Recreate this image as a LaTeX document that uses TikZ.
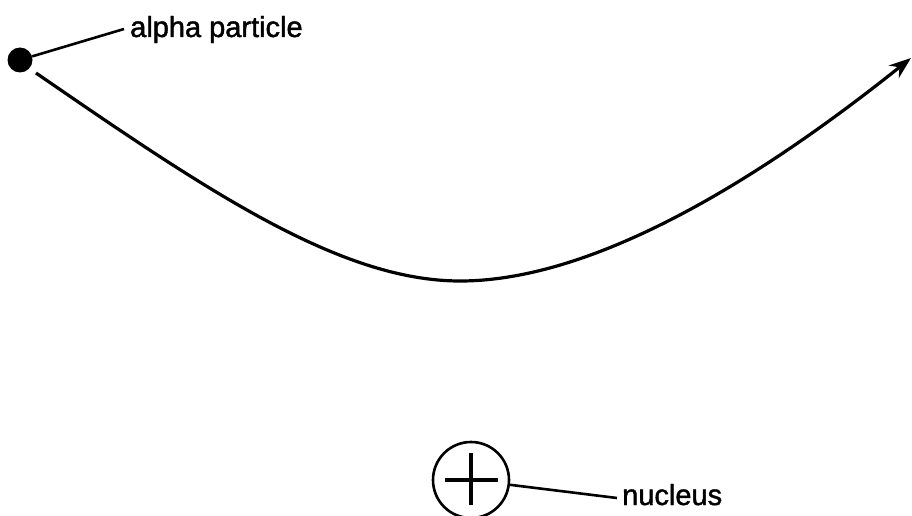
\documentclass[tikz,border=0pt]{standalone}
\usepackage{fontspec}
\setmainfont{Liberation Sans}
\newfontfamily\lblfont{Liberation Sans}[FakeBold=1.5]
\usetikzlibrary{arrows.meta}
\begin{document}
\begin{tikzpicture}[x=1pt,y=-1pt,
  lbl/.style={anchor=base west,inner sep=0pt,font=\lblfont\fontsize{29}{32}\selectfont},
  lead/.style={line width=2.6pt},
  path/.style={line width=3.2pt},
]
\useasboundingbox (0,0) rectangle (912,516);
\node[circle,fill=black,minimum size=25pt,inner sep=0pt] (alpha) at (20,60) {};
\node[lbl] (alab) at (130,37) {alpha particle};
\draw[lead] (alpha) -- ([xshift=-6pt,yshift=8pt]alab.base west);
\coordinate (s) at (36,73);
\coordinate (b) at (460,281);
\coordinate (e) at (911,58);
\draw[path,-{Stealth[length=22pt,width=16pt]}] (s) .. controls (206,190) and (340,281) .. (b)
  .. controls (590,281) and (751,186) .. (e);
\node[circle,draw,line width=2.6pt,minimum size=76pt,inner sep=0pt] (nuc) at (471,480) {};
\draw[line width=4.8pt] (445,480) -- (498,480);
\draw[line width=4.8pt] (471,453) -- (471,505);
\node[lbl] (nlab) at (622,505) {nucleus};
\draw[lead] (nuc) -- ([xshift=-5pt,yshift=7pt]nlab.base west);
\end{tikzpicture}
\end{document}
